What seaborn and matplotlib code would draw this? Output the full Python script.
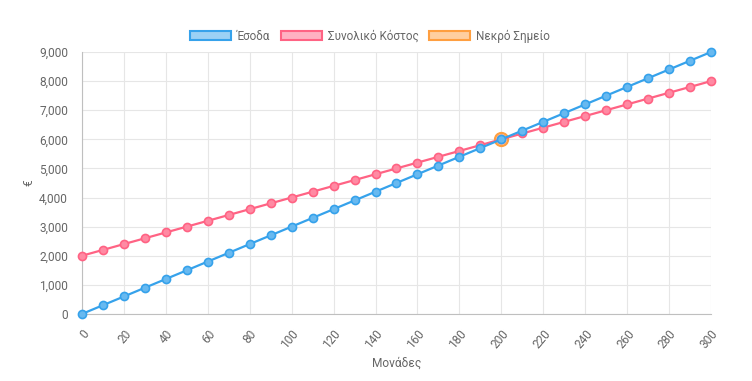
import numpy as np
import pandas as pd
import matplotlib
matplotlib.use("Agg")
import matplotlib.pyplot as plt
import matplotlib.ticker as mticker
from matplotlib.patches import Patch
import seaborn as sns

# data
units = [0, 10, 20, 30, 40, 50, 60, 70, 80, 90, 100, 110, 120, 130, 140, 150,
         160, 170, 180, 190, 200, 210, 220, 230, 240, 250, 260, 270, 280, 290, 300]
revenue = [0, 300, 600, 900, 1200, 1500, 1800, 2100, 2400, 2700, 3000, 3300, 3600,
           3900, 4200, 4500, 4800, 5100, 5400, 5700, 6000, 6300, 6600, 6900, 7200,
           7500, 7800, 8100, 8400, 8700, 9000]
total_cost = [2000, 2200, 2400, 2600, 2800, 3000, 3200, 3400, 3600, 3800, 4000, 4200,
              4400, 4600, 4800, 5000, 5200, 5400, 5600, 5800, 6000, 6200, 6400, 6600,
              6800, 7000, 7200, 7400, 7600, 7800, 8000]
break_even_x = [200]
break_even_y = [6000]
labels = ["Έσοδα", "Συνολικό Κόστος", "Νεκρό Σημείο"]

blue = (54/255, 162/255, 235/255)
pink = (255/255, 99/255, 132/255)
orange = (255/255, 159/255, 64/255)

def light(c, a=0.5):
    return tuple(1 - a + a * v for v in c)

sns.set_style("white")
plt.rcParams['font.family'] = ['Roboto', 'DejaVu Sans']

fig = plt.figure(figsize=(7.52, 3.81), dpi=100)
ax = fig.add_axes([0.109, 0.176, 0.8365, 0.6875])

df = pd.DataFrame({"units": units, "revenue": revenue, "cost": total_cost})

# break-even point at the bottom, then cost, revenue on top
sns.scatterplot(x=break_even_x, y=break_even_y, ax=ax, s=90, color=light(orange),
                edgecolor=orange, linewidth=1.5, zorder=3, clip_on=False)
sns.lineplot(data=df, x="units", y="cost", ax=ax, color=pink, linewidth=1.6,
             marker="o", markersize=5.8, markerfacecolor=light(pink, 0.75),
             markeredgecolor=pink, markeredgewidth=1.2, zorder=4, clip_on=False)
sns.lineplot(data=df, x="units", y="revenue", ax=ax, color=blue, linewidth=1.6,
             marker="o", markersize=5.8, markerfacecolor=light(blue, 0.75),
             markeredgecolor=blue, markeredgewidth=1.2, zorder=5, clip_on=False)

ax.set_xlim(0, 300)
ax.set_ylim(0, 9000)
ax.set_xticks(np.arange(0, 301, 20))
ax.set_yticks(np.arange(0, 9001, 1000))
ax.yaxis.set_major_formatter(mticker.FuncFormatter(lambda v, p: f"{int(v):,}"))
ax.grid(True, color='#e6e6e6', linewidth=0.8)
ax.set_axisbelow(True)
for s in ax.spines.values():
    s.set_visible(False)
ax.spines['left'].set_visible(True)
ax.spines['left'].set_color('#bfbfbf')
ax.spines['bottom'].set_visible(True)
ax.spines['bottom'].set_color('#bfbfbf')
ax.tick_params(axis='both', length=7, color='#e6e6e6', labelsize=8.6,
               labelcolor='#666666', pad=3)
plt.setp(ax.get_xticklabels(), rotation=50, ha='right', rotation_mode='anchor')
ax.set_xlabel("Μονάδες", fontsize=8.6, color='#666666', labelpad=4)
ax.set_ylabel("€", fontsize=8.6, color='#666666', labelpad=3)

handles = [Patch(facecolor=light(c), edgecolor=c, linewidth=1.5) for c in (blue, pink, orange)]
fig.legend(handles, labels, loc='center', bbox_to_anchor=(0.492, 1 - 36/381), ncol=3,
           frameon=False, fontsize=8.4, handlelength=3.5, handleheight=0.9,
           columnspacing=0.9, handletextpad=0.5, labelcolor='#666666')

fig.savefig("out.png", dpi=100)
